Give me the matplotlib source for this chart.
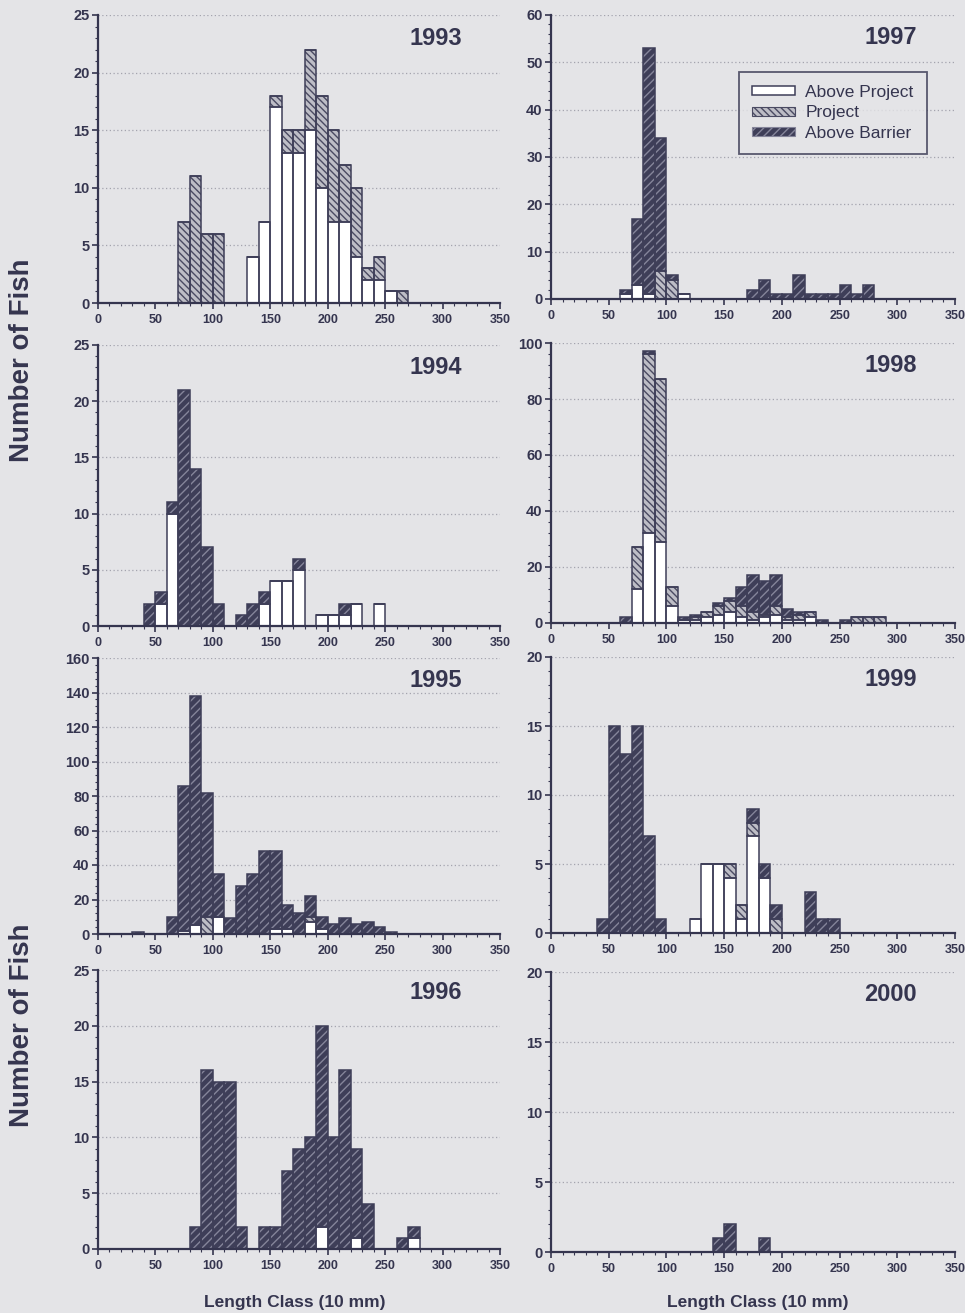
#!/usr/bin/env python3

import matplotlib
matplotlib.use("Agg")
import matplotlib.pyplot as plt
from matplotlib.patches import Patch
from matplotlib.ticker import MultipleLocator, AutoMinorLocator

plt.rcParams['font.family'] = ['Liberation Sans', 'DejaVu Sans']
plt.rcParams['hatch.linewidth'] = 1.0

INK = '#35354f'
BG = '#e4e4e7'
DARK = '#3e3e58'
LIGHT = '#bdbdc6'

# length-class bins (left edge, mm) and counts per reach
bins_1993 = list(range(70, 270, 10))
above_project_1993 = [0, 0, 0, 0, 0, 0, 4, 7, 17, 13, 13, 15, 10, 7, 7, 4, 2, 2, 1, 0]
project_1993 = [7, 11, 6, 6, 0, 0, 0, 0, 1, 2, 2, 7, 8, 8, 5, 6, 1, 2, 0, 1]
above_barrier_1993 = [0] * 20

bins_1994 = list(range(40, 250, 10))
above_project_1994 = [0, 2, 10, 0, 0, 0, 0, 0, 0, 0, 2, 4, 4, 5, 0, 1, 1, 1, 2, 0, 2]
project_1994 = [0] * 21
above_barrier_1994 = [2, 1, 1, 21, 14, 7, 2, 0, 1, 2, 1, 0, 0, 1, 0, 0, 0, 1, 0, 0, 0]

bins_1995 = list(range(30, 260, 10))
above_project_1995 = [0, 0, 0, 0, 2, 5, 0, 10, 0, 0, 0, 0, 3, 3, 0, 7, 3, 0, 0, 0, 0, 0, 0]
project_1995 = [0, 0, 0, 0, 0, 0, 10, 0, 0, 0, 0, 0, 0, 0, 0, 3, 0, 0, 0, 0, 0, 0, 0]
above_barrier_1995 = [1, 0, 0, 10, 84, 133, 72, 25, 9, 28, 35, 48, 45, 14, 12, 12, 7, 6, 9, 6, 7, 4, 1]

bins_1996 = list(range(80, 280, 10))
above_project_1996 = [0, 0, 0, 0, 0, 0, 0, 0, 0, 0, 0, 2, 0, 0, 1, 0, 0, 0, 0, 1]
project_1996 = [0] * 20
above_barrier_1996 = [2, 16, 15, 15, 2, 0, 2, 2, 7, 9, 10, 18, 10, 16, 8, 4, 0, 0, 1, 1]

bins_1997 = list(range(60, 280, 10))
above_project_1997 = [1, 3, 1, 0, 0, 1, 0, 0, 0, 0, 0, 0, 0, 0, 0, 0, 0, 0, 0, 0, 0, 0]
project_1997 = [0, 0, 0, 6, 4, 0, 0, 0, 0, 0, 0, 0, 0, 0, 0, 0, 0, 0, 0, 0, 0, 0]
above_barrier_1997 = [1, 14, 52, 28, 1, 0, 0, 0, 0, 0, 0, 2, 4, 1, 1, 5, 1, 1, 1, 3, 1, 3]

bins_1998 = list(range(60, 290, 10))
above_project_1998 = [0, 12, 32, 29, 6, 1, 1, 2, 3, 4, 2, 1, 2, 3, 1, 1, 2, 0, 0, 0, 0, 0, 0]
project_1998 = [0, 15, 64, 58, 7, 0, 1, 2, 3, 4, 4, 3, 1, 3, 1, 2, 2, 0, 0, 0, 2, 2, 2]
above_barrier_1998 = [2, 0, 1, 0, 0, 1, 1, 0, 1, 1, 7, 13, 12, 11, 3, 1, 0, 1, 0, 1, 0, 0, 0]

bins_1999 = list(range(40, 250, 10))
above_project_1999 = [0, 0, 0, 0, 0, 0, 0, 0, 1, 5, 5, 4, 1, 7, 4, 0, 0, 0, 0, 0, 0]
project_1999 = [0, 0, 0, 0, 0, 0, 0, 0, 0, 0, 0, 1, 1, 1, 0, 1, 0, 0, 0, 0, 0]
above_barrier_1999 = [1, 15, 13, 15, 7, 1, 0, 0, 0, 0, 0, 0, 0, 1, 1, 1, 0, 0, 3, 1, 1]

bins_2000 = [140, 150, 160, 170, 180]
above_project_2000 = [0, 0, 0, 0, 0]
project_2000 = [0, 0, 0, 0, 0]
above_barrier_2000 = [1, 2, 0, 0, 1]

# year: (bins, above project, project, above barrier, ymax, ystep)
panels = {
    1993: (bins_1993, above_project_1993, project_1993, above_barrier_1993, 25, 5),
    1997: (bins_1997, above_project_1997, project_1997, above_barrier_1997, 60, 10),
    1994: (bins_1994, above_project_1994, project_1994, above_barrier_1994, 25, 5),
    1998: (bins_1998, above_project_1998, project_1998, above_barrier_1998, 100, 20),
    1995: (bins_1995, above_project_1995, project_1995, above_barrier_1995, 160, 20),
    1999: (bins_1999, above_project_1999, project_1999, above_barrier_1999, 20, 5),
    1996: (bins_1996, above_project_1996, project_1996, above_barrier_1996, 25, 5),
    2000: (bins_2000, above_project_2000, project_2000, above_barrier_2000, 20, 5),
}

# axes boxes in pixels: left, top, right, bottom
W, H = 965, 1313
boxes = {
    1993: (98, 15, 500, 303), 1997: (551, 15, 955, 299),
    1994: (98, 345, 500, 626), 1998: (551, 343, 955, 623),
    1995: (98, 658, 500, 934), 1999: (551, 657, 955, 933),
    1996: (98, 970, 500, 1249), 2000: (551, 972, 955, 1252),
}

fig = plt.figure(figsize=(W / 100, H / 100), dpi=100)
fig.patch.set_facecolor(BG)

P_HATCH = '\\\\\\\\\\'
B_HATCH = '////'
P_HCOL = '#4a4a62'
B_HCOL = '#85859a'


def draw_bars(ax, x, h, bottom, face, hatch, hatch_col):
    ax.bar(x, h, width=10, align='edge', bottom=bottom, color=face,
           edgecolor=hatch_col, hatch=hatch, linewidth=0, zorder=2)
    ax.bar(x, h, width=10, align='edge', bottom=bottom, facecolor='none',
           edgecolor=DARK, linewidth=1.1, zorder=3)


for year, (x, a, p, b, ymax, ystep) in panels.items():
    l, t, r, btm = boxes[year]
    ax = fig.add_axes([l / W, 1 - btm / H, (r - l) / W, (btm - t) / H])
    ax.set_facecolor(BG)

    ab = [ai + pi for ai, pi in zip(a, p)]
    draw_bars(ax, x, a, 0, 'white', None, DARK)
    draw_bars(ax, x, p, a, LIGHT, P_HATCH, P_HCOL)
    draw_bars(ax, x, b, ab, DARK, B_HATCH, B_HCOL)

    ax.set_xlim(0, 350)
    ax.set_ylim(0, ymax)
    ax.xaxis.set_major_locator(MultipleLocator(50))
    ax.xaxis.set_minor_locator(MultipleLocator(10))
    ax.yaxis.set_major_locator(MultipleLocator(ystep))
    ax.yaxis.set_minor_locator(AutoMinorLocator(5))
    ax.grid(axis='y', which='major', color='#a4a4ae', linestyle=(0, (1, 2)),
            linewidth=0.9, zorder=0)
    ax.set_axisbelow(True)

    for s in ['top', 'right']:
        ax.spines[s].set_visible(False)
    for s in ['left', 'bottom']:
        ax.spines[s].set_color(INK)
        ax.spines[s].set_linewidth(1.6)
        ax.spines[s].set_zorder(4)

    ax.tick_params(axis='both', which='major', colors=INK, length=4, width=1.2)
    ax.tick_params(axis='both', which='minor', colors=INK, length=2, width=0.8)
    ax.tick_params(axis='x', labelsize=9, pad=4)
    ax.tick_params(axis='y', labelsize=10.5, pad=2)
    for lab in ax.get_xticklabels() + ax.get_yticklabels():
        lab.set_fontweight('bold')

    ax.text(0.905, 0.92, str(year), transform=ax.transAxes, ha='right',
            va='center', fontsize=17, fontweight='bold', color=INK)

    if year == 1997:
        handles = [
            Patch(facecolor='white', edgecolor=DARK, linewidth=1.1),
            Patch(facecolor=LIGHT, edgecolor=P_HCOL, hatch=P_HATCH, linewidth=0.8),
            Patch(facecolor=DARK, edgecolor=B_HCOL, hatch=B_HATCH, linewidth=0.8),
        ]
        leg = ax.legend(handles, ['Above Project', 'Project', 'Above Barrier'],
                        loc='upper right', bbox_to_anchor=(0.93, 0.80),
                        fontsize=12.5, frameon=True, fancybox=False,
                        handlelength=2.5, handleheight=0.45, handletextpad=0.6,
                        labelspacing=0.32, borderpad=0.75, borderaxespad=0,
                        labelcolor=INK)
        leg.get_frame().set_edgecolor(INK)
        leg.get_frame().set_linewidth(1.3)
        leg.get_frame().set_facecolor(BG)
        leg.set_zorder(5)

fig.text(22 / W, 1 - 360 / H, 'Number of Fish', rotation=90, ha='center',
         va='center', fontsize=20, fontweight='bold', color=INK)
fig.text(22 / W, 1 - 1025 / H, 'Number of Fish', rotation=90, ha='center',
         va='center', fontsize=20, fontweight='bold', color=INK)
fig.text(295 / W, 1 - 1302 / H, 'Length Class (10 mm)', ha='center',
         va='center', fontsize=12.5, fontweight='bold', color=INK)
fig.text(758 / W, 1 - 1302 / H, 'Length Class (10 mm)', ha='center',
         va='center', fontsize=12.5, fontweight='bold', color=INK)

plt.savefig('out.png', dpi=100, facecolor=BG)
